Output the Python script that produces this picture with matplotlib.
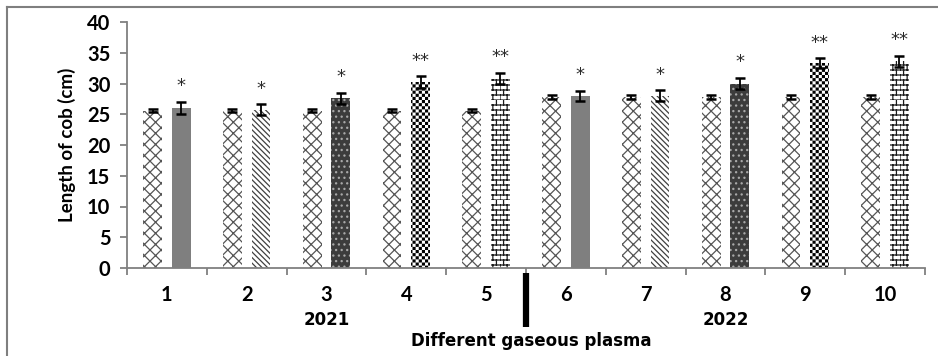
import warnings
warnings.filterwarnings("ignore")
import numpy as np
import matplotlib
matplotlib.use("Agg")
import matplotlib.pyplot as plt
import matplotlib.hatch as mhatch
from matplotlib.path import Path
from matplotlib.lines import Line2D

# ---------------- data ----------------
categories = ['1', '2', '3', '4', '5', '6', '7', '8', '9', '10']
control = [25.6, 25.6, 25.6, 25.6, 25.6, 27.8, 27.8, 27.8, 27.8, 27.8]
control_err = [0.3, 0.3, 0.3, 0.3, 0.3, 0.3, 0.3, 0.3, 0.3, 0.3]
treated = [26.0, 25.7, 27.6, 30.2, 30.8, 28.0, 28.0, 30.0, 33.3, 33.6]
treated_err = [1.0, 0.9, 0.9, 0.95, 0.95, 0.85, 0.9, 0.95, 0.85, 0.9]
signif = ['*', '*', '*', '**', '**', '*', '*', '*', '**', '**']
year_labels = ['2021', '2022']
year_positions = [3, 8]
xlabel = 'Different gaseous plasma'
ylabel = 'Length of cob (cm)'

# ---------------- custom hatches ----------------
HLW = 0.9
plt.rcParams['hatch.linewidth'] = HLW


class CheckerHatch(mhatch.HatchPatternBase):
    def __init__(self, hatch, density):
        self.n = 32 if 'C' in hatch else 0
        self.num_vertices = (self.n * self.n // 2) * 5

    def set_vertices_and_codes(self, vertices, codes):
        n = self.n
        s = 1.0 / n
        inset = (HLW * 100 / 72) / 2 / 100
        k = 0
        for i in range(n):
            for j in range(n):
                if (i + j) % 2 == 0:
                    x0, x1 = j * s + inset, (j + 1) * s - inset
                    y0, y1 = i * s + inset, (i + 1) * s - inset
                    vertices[k:k + 5] = [(x0, y0), (x1, y0), (x1, y1), (x0, y1), (x0, y0)]
                    codes[k:k + 5] = [Path.MOVETO, Path.LINETO, Path.LINETO,
                                      Path.LINETO, Path.CLOSEPOLY]
                    k += 5


class BrickHatch(mhatch.HatchPatternBase):
    def __init__(self, hatch, density):
        on = 'B' in hatch
        self.rows = 20 if on else 0
        self.cols = 14
        self.num_vertices = self.rows * (2 + 2 * self.cols)

    def set_vertices_and_codes(self, vertices, codes):
        k = 0
        R, C = self.rows, self.cols
        for i in range(R):
            y0, y1 = i / R, (i + 1) / R
            vertices[k] = (0, y0); codes[k] = Path.MOVETO
            vertices[k + 1] = (1, y0); codes[k + 1] = Path.LINETO
            k += 2
            off = 0.5 if i % 2 else 0.0
            for j in range(C):
                x = (j + off) / C
                vertices[k] = (x, y0); codes[k] = Path.MOVETO
                vertices[k + 1] = (x, y1); codes[k + 1] = Path.LINETO
                k += 2


mhatch._hatch_types.append(CheckerHatch)
mhatch._hatch_types.append(BrickHatch)

# styles: (facecolor, hatch, hatchcolor)
control_style = ('white', 'xxx', '#555555')
treat_styles = [
    ('#7f7f7f', '', '#7f7f7f'),
    ('white', '\\\\\\\\\\\\', '#404040'),
    ('#3c3c3c', '...', '#a8a8a8'),
    ('white', 'C', 'black'),
    ('white', 'B', '#1a1a1a'),
]

# ---------------- figure ----------------
W, H = 938, 356
fig = plt.figure(figsize=(W / 100, H / 100), dpi=100)
ax = fig.add_axes([127 / W, 1 - 268 / H, (925 - 127) / W, (268 - 22) / H])

x = np.arange(1, len(categories) + 1)
bw = 0.235
off = 0.18
for i in range(len(categories)):
    fc, hc, ec = control_style
    ax.bar(x[i] - off, control[i], bw, color=fc, hatch=hc, edgecolor=ec, linewidth=0, zorder=2)
    fc, hc, ec = treat_styles[i % 5]
    ax.bar(x[i] + off, treated[i], bw, color=fc, hatch=hc, edgecolor=ec, linewidth=0, zorder=2)

ax.errorbar(x - off, control, yerr=control_err, fmt='none', ecolor='black',
            elinewidth=1.3, capsize=3.4, capthick=1.8, zorder=3)
ax.errorbar(x + off, treated, yerr=treated_err, fmt='none', ecolor='black',
            elinewidth=1.3, capsize=3.4, capthick=1.8, zorder=3)

for i in range(len(categories)):
    ax.text(x[i] + off, treated[i] + treated_err[i] + 1.7, signif[i],
            ha='center', va='baseline', fontsize=13, color='#2a2a2a',
            fontfamily='DejaVu Sans')

ax.set_xlim(0.5, len(categories) + 0.5)
ax.set_ylim(0, 40)
ax.set_yticks(np.arange(0, 41, 5))
ax.set_xticks(np.arange(0.5, len(categories) + 1, 1.0))
ax.set_xticklabels([])
ax.set_xticks(x, minor=True)
ax.set_xticklabels(categories, minor=True)

for s in ['top', 'right']:
    ax.spines[s].set_visible(False)
for s in ['left', 'bottom']:
    ax.spines[s].set_color('#808080')
    ax.spines[s].set_linewidth(1.3)

ax.tick_params(axis='y', which='major', direction='out', length=5, width=1.3,
               color='#808080', pad=7, labelsize=14.5)
ax.tick_params(axis='x', which='major', direction='out', length=5, width=1.3,
               color='#808080')
ax.tick_params(axis='x', which='minor', length=0, pad=12, labelsize=14.5)
for lab in ax.get_yticklabels() + ax.get_xticklabels(minor=True):
    lab.set_fontfamily('Lato')
    lab.set_fontweight('bold')

ax.set_ylabel(ylabel, fontfamily='Lato', fontweight='bold', fontsize=13.5, labelpad=8)

# year labels and x label
for lbl, pos in zip(year_labels, year_positions):
    ax.annotate(lbl, xy=(pos, 0), xycoords=('data', 'axes fraction'),
                xytext=(0, -52), textcoords='offset pixels', ha='center', va='center',
                fontsize=12, fontweight='bold', fontfamily='DejaVu Sans')
ax.annotate(xlabel, xy=(0.5, 0), xycoords='axes fraction',
            xytext=(5, -73), textcoords='offset pixels', ha='center', va='center',
            fontsize=12, fontweight='bold', fontfamily='DejaVu Sans')

# thick separator between the two years
ax.add_line(Line2D([0.5, 0.5], [-0.02, -0.24], transform=ax.transAxes,
                   color='black', linewidth=4.5, clip_on=False, solid_capstyle='butt'))

# outer frame
fig.add_artist(Line2D([7 / W, 1.0], [1 - 6.5 / H, 1 - 6.5 / H], transform=fig.transFigure,
                      color='#7f7f7f', linewidth=1.5))
fig.add_artist(Line2D([7 / W, 7 / W], [0, 1 - 6.5 / H], transform=fig.transFigure,
                      color='#7f7f7f', linewidth=1.5))

fig.savefig('out.png', dpi=100)
